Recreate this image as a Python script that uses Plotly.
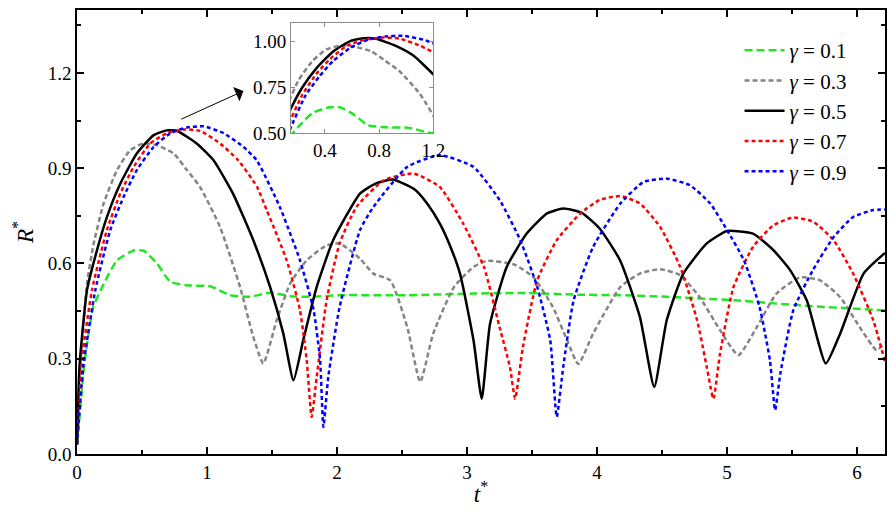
"""
plot.py - R* against t* for several gamma values, with an inset zoom
"""

import plotly.graph_objects as go

# ---------------- Data ----------------

t_01 = [0, 0.02, 0.06, 0.126, 0.205, 0.308, 0.436, 0.513, 0.615, 0.718, 0.846,
        1.023, 1.177, 1.33, 1.485, 1.64, 1.79, 2.02, 2.54, 3.05, 3.46, 3.82,
        4.18, 4.54, 5.05, 5.56, 6.215]
r_01 = [0.03, 0.12, 0.296, 0.463, 0.535, 0.61, 0.641, 0.64, 0.6, 0.542, 0.531,
        0.528, 0.5, 0.495, 0.508, 0.497, 0.495, 0.5, 0.5, 0.505, 0.507, 0.502,
        0.5, 0.495, 0.484, 0.468, 0.452]

t_03 = [0, 0.03, 0.077, 0.128, 0.205, 0.308, 0.41, 0.513, 0.615, 0.744, 0.846,
        0.946, 1.1, 1.254, 1.356, 1.433, 1.536, 1.64, 1.767, 1.92, 2.02, 2.177,
        2.28, 2.41, 2.54, 2.64, 2.74, 2.9, 3.05, 3.15, 3.36, 3.51, 3.66, 3.77,
        3.856, 3.97, 4.18, 4.33, 4.485, 4.64, 4.79, 4.946, 5.087, 5.23, 5.38,
        5.56, 5.715, 5.87, 6.02, 6.15, 6.215]
r_03 = [0.03, 0.3, 0.537, 0.662, 0.789, 0.894, 0.957, 0.978, 0.972, 0.946, 0.894,
        0.841, 0.715, 0.526, 0.369, 0.285, 0.421, 0.537, 0.61, 0.657, 0.663, 0.615,
        0.568, 0.547, 0.4, 0.227, 0.379, 0.526, 0.589, 0.608, 0.597, 0.557, 0.463, 0.358,
        0.283, 0.379, 0.526, 0.568, 0.582, 0.563, 0.494, 0.39, 0.311, 0.4, 0.505,
        0.556, 0.547, 0.494, 0.4, 0.327, 0.35]

t_05 = [0, 0.02, 0.077, 0.154, 0.23, 0.333, 0.46, 0.59, 0.69, 0.77, 0.923,
        1.05, 1.2, 1.356, 1.485, 1.587, 1.665, 1.74, 1.844, 1.97, 2.177, 2.3,
        2.43, 2.6, 2.7, 2.79, 2.87, 2.946, 3.05, 3.113, 3.177, 3.305, 3.459,
        3.613, 3.74, 3.88, 4.02, 4.177, 4.33, 4.44, 4.536, 4.664, 4.844, 5.0,
        5.2, 5.356, 5.485, 5.613, 5.76, 5.87, 6.05, 6.215]
r_05 = [0.03, 0.28, 0.516, 0.642, 0.746, 0.851, 0.946, 1.004, 1.019, 1.017, 0.977,
        0.925, 0.82, 0.673, 0.526, 0.379, 0.232, 0.358, 0.526, 0.673, 0.82, 0.852,
        0.864, 0.832, 0.785, 0.726, 0.655, 0.568, 0.358, 0.174, 0.41, 0.589, 0.694,
        0.757, 0.773, 0.76, 0.71, 0.61, 0.431, 0.211, 0.421, 0.568, 0.663, 0.702,
        0.694, 0.642, 0.579, 0.484, 0.285, 0.379, 0.568, 0.633]

t_07 = [0, 0.04, 0.115, 0.23, 0.333, 0.436, 0.564, 0.692, 0.82, 0.949, 1.103,
        1.24, 1.385, 1.459, 1.613, 1.715, 1.767, 1.805, 1.844, 1.92, 2.02, 2.15,
        2.36, 2.59, 2.79, 2.97, 3.13, 3.25, 3.33, 3.37, 3.43, 3.54, 3.69, 3.87,
        4.02, 4.18, 4.33, 4.485, 4.64, 4.77, 4.844, 4.895, 4.946, 5.05, 5.2,
        5.356, 5.51, 5.664, 5.82, 5.97, 6.125, 6.215]
r_07 = [0.03, 0.3, 0.516, 0.705, 0.82, 0.904, 0.978, 1.01, 1.022, 1.017, 0.977,
        0.925, 0.841, 0.768, 0.61, 0.453, 0.295, 0.117, 0.243, 0.484, 0.663, 0.778,
        0.862, 0.883, 0.841, 0.726, 0.589, 0.4, 0.274, 0.174, 0.337, 0.547, 0.673, 0.757,
        0.8, 0.812, 0.789, 0.715, 0.589, 0.421, 0.274, 0.174, 0.316, 0.526, 0.652,
        0.72, 0.745, 0.731, 0.673, 0.568, 0.421, 0.29]

t_09 = [0, 0.05, 0.141, 0.256, 0.359, 0.46, 0.59, 0.718, 0.846, 0.974, 1.128,
        1.28, 1.382, 1.56, 1.715, 1.82, 1.87, 1.895, 1.933, 2.02, 2.177, 2.28,
        2.54, 2.79, 3.05, 3.25, 3.41, 3.54, 3.64, 3.69, 3.74, 3.82, 3.97, 4.18,
        4.36, 4.54, 4.715, 4.87, 5.0, 5.13, 5.25, 5.33, 5.37, 5.41, 5.51, 5.66,
        5.82, 5.97, 6.125, 6.215]
r_09 = [0.03, 0.28, 0.516, 0.705, 0.81, 0.894, 0.967, 1.01, 1.028, 1.032, 1.01,
        0.967, 0.925, 0.778, 0.61, 0.453, 0.295, 0.085, 0.243, 0.463, 0.705, 0.778,
        0.904, 0.941, 0.904, 0.8, 0.673, 0.526, 0.358, 0.117, 0.274, 0.484, 0.652, 0.789,
        0.857, 0.867, 0.846, 0.789, 0.705, 0.61, 0.463, 0.295, 0.138, 0.253, 0.453, 0.579,
        0.683, 0.746, 0.768, 0.77]

gammas = ["0.1", "0.3", "0.5", "0.7", "0.9"]

FONT = "'Liberation Serif', 'Times New Roman', Times, serif"

series = [
    (t_01, r_01, "#22e622", "8px,4px"),
    (t_03, r_03, "#858585", "5px,3px"),
    (t_05, r_05, "black", "solid"),
    (t_07, r_07, "#ff0000", "4px,3px"),
    (t_09, r_09, "#0000ff", "4px,3px"),
]

fig = go.Figure()

# ---------------- Main curves ----------------

for (t, r, color, dash), g in zip(series, gammas):
    fig.add_trace(
        go.Scatter(
            x=t,
            y=r,
            mode="lines",
            name="<i>γ</i> = " + g,
            line=dict(color=color, width=2.5, dash=dash,
                      shape="spline", smoothing=0.5),
        )
    )

# ---------------- Inset curves ----------------

for (t, r, color, dash), g in zip(series, gammas):
    fig.add_trace(
        go.Scatter(
            x=t,
            y=r,
            mode="lines",
            xaxis="x2",
            yaxis="y2",
            showlegend=False,
            line=dict(color=color, width=2.5, dash=dash,
                      shape="spline", smoothing=0.5),
        )
    )

axis_common = dict(
    showgrid=False,
    zeroline=False,
    showline=True,
    linecolor="black",
    linewidth=1.5,
    mirror="allticks",
    ticks="inside",
    ticklen=7,
    tickwidth=1.5,
    tickcolor="black",
    automargin=False,
    tickfont=dict(family=FONT, size=19, color="black"),
)

inset_common = dict(
    showgrid=False,
    zeroline=False,
    showline=True,
    linecolor="#8c8c8c",
    linewidth=1,
    mirror="allticks",
    ticks="inside",
    ticklen=4,
    tickcolor="#8c8c8c",
    automargin=False,
    tickfont=dict(family=FONT, size=19, color="black"),
)

fig.update_layout(
    width=894,
    height=515,
    paper_bgcolor="white",
    plot_bgcolor="white",
    margin=dict(l=77, r=9, t=10, b=61),
    font=dict(family=FONT, color="black"),
    xaxis=dict(
        range=[0, 6.215],
        dtick=1,
        tick0=0,
        minor=dict(dtick=0.5, ticks="inside", ticklen=4, tickcolor="black", tickwidth=1.5),
        title=dict(text="<i>t</i><sup>*</sup>", font=dict(family=FONT, size=23), standoff=4),
        **axis_common,
    ),
    yaxis=dict(
        range=[0, 1.398],
        dtick=0.3,
        tick0=0,
        tickformat=".1f",
        minor=dict(dtick=0.15, ticks="inside", ticklen=4, tickcolor="black", tickwidth=1.5),
        title=dict(text="<i>R</i><sup>*</sup>", font=dict(family=FONT, size=23), standoff=8),
        **axis_common,
    ),
    xaxis2=dict(
        domain=[0.265, 0.441],
        anchor="y2",
        range=[0.15, 1.2],
        tickvals=[0.4, 0.8, 1.2],
        tickformat=".1f",
        **inset_common,
    ),
    yaxis2=dict(
        domain=[0.723, 0.970],
        anchor="x2",
        range=[0.5, 1.1],
        tickvals=[0.5, 0.75, 1.0],
        tickformat=".2f",
        **inset_common,
    ),
    legend=dict(
        x=0.82,
        y=0.955,
        xanchor="left",
        yanchor="top",
        bgcolor="rgba(0,0,0,0)",
        font=dict(family=FONT, size=21, color="black"),
        itemwidth=40,
    ),
    showlegend=True,
)

# ---------------- Arrow pointing to the inset ----------------

fig.add_annotation(
    x=1.28,
    y=1.143,
    ax=0.79,
    ay=1.052,
    xref="x",
    yref="y",
    axref="x",
    ayref="y",
    text="",
    showarrow=True,
    arrowhead=1,
    arrowsize=2.6,
    arrowwidth=1,
    arrowcolor="black",
)

# page body has an 8px default margin; drop it so the figure sits at 0,0
fig.write_html(
    "out.html",
    config={"displayModeBar": False},
    post_script="document.body.style.margin = '0px';",
)
